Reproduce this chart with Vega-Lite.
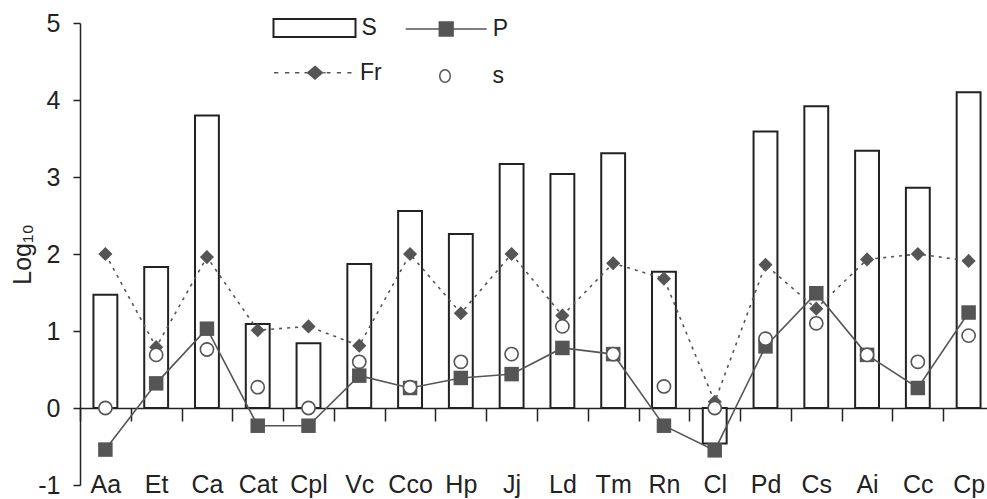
{
  "$schema": "https://vega.github.io/schema/vega-lite/v6.json",
  "width": 914,
  "height": 462,
  "autosize": {"type": "none"},
  "padding": {"left": 80, "top": 23, "right": 0, "bottom": 14},
  "background": "white",
  "config": {
    "font": "Liberation Sans",
    "view": {"stroke": null},
    "axis": {"grid": false, "labelFont": "Liberation Sans", "titleFont": "Liberation Sans", "labelColor": "#222", "titleColor": "#222", "domainColor": "#222", "tickColor": "#222", "domainWidth": 1.5, "tickWidth": 1.5},
    "legend": {"labelFont": "Liberation Sans", "labelFontSize": 23, "labelColor": "#222", "padding": 0, "titlePadding": 0, "rowPadding": 0, "orient": "none"}
  },
  "data": {
    "values": [
      {"cat": "Aa", "S": 1.47, "P": -0.54, "Fr": 2.0, "s": 0.0},
      {"cat": "Et", "S": 1.83, "P": 0.32, "Fr": 0.79, "s": 0.69},
      {"cat": "Ca", "S": 3.8, "P": 1.03, "Fr": 1.96, "s": 0.76},
      {"cat": "Cat", "S": 1.09, "P": -0.23, "Fr": 1.01, "s": 0.27},
      {"cat": "Cpl", "S": 0.84, "P": -0.23, "Fr": 1.06, "s": 0.0},
      {"cat": "Vc", "S": 1.87, "P": 0.42, "Fr": 0.81, "s": 0.6},
      {"cat": "Cco", "S": 2.56, "P": 0.26, "Fr": 2.0, "s": 0.27},
      {"cat": "Hp", "S": 2.26, "P": 0.39, "Fr": 1.23, "s": 0.6},
      {"cat": "Jj", "S": 3.17, "P": 0.44, "Fr": 2.0, "s": 0.7},
      {"cat": "Ld", "S": 3.04, "P": 0.78, "Fr": 1.2, "s": 1.06},
      {"cat": "Tm", "S": 3.31, "P": 0.7, "Fr": 1.88, "s": 0.7},
      {"cat": "Rn", "S": 1.77, "P": -0.23, "Fr": 1.68, "s": 0.28},
      {"cat": "Cl", "S": -0.46, "P": -0.55, "Fr": 0.08, "s": 0.0},
      {"cat": "Pd", "S": 3.59, "P": 0.8, "Fr": 1.86, "s": 0.9},
      {"cat": "Cs", "S": 3.92, "P": 1.49, "Fr": 1.29, "s": 1.1},
      {"cat": "Ai", "S": 3.34, "P": 0.69, "Fr": 1.93, "s": 0.69},
      {"cat": "Cc", "S": 2.86, "P": 0.26, "Fr": 2.0, "s": 0.6},
      {"cat": "Cp", "S": 4.1, "P": 1.24, "Fr": 1.91, "s": 0.94}
    ]
  },
  "encoding": {
    "x": {
      "field": "cat", "type": "nominal", "sort": null,
      "scale": {"paddingInner": 0, "paddingOuter": 0},
      "axis": {"title": null, "orient": "bottom", "offset": -77, "tickBand": "extent", "tickSize": 13, "labelPadding": 51, "labelFontSize": 25, "labelAngle": 0}
    }
  },
  "layer": [
    {
      "mark": {"type": "bar", "width": {"band": 0.47}, "stroke": "#222", "strokeWidth": 2},
      "encoding": {
        "y": {"field": "S", "type": "quantitative", "title": "Log₁₀", "scale": {"domain": [-1, 5], "nice": false},
          "axis": {"values": [-1, 0, 1, 2, 3, 4, 5], "labelExpr": "'' + datum.value", "tickSize": 7, "labelPadding": 13, "labelFontSize": 25, "titleFontSize": 25, "titleFontWeight": "normal", "titlePadding": 2}},
        "fill": {"datum": "S", "type": "nominal", "scale": {"range": ["white"]},
          "legend": {"title": null, "legendX": 192.5, "legendY": -37, "symbolType": "M-1,-0.22H1V0.22H-1Z", "symbolSize": 6724, "symbolStrokeColor": "#222", "symbolStrokeWidth": 2, "symbolFillColor": "white", "labelOffset": 5}}
      }
    },
    {
      "mark": {"type": "line", "stroke": "#555", "strokeWidth": 1.6, "strokeDash": [3, 5]},
      "encoding": {"y": {"field": "Fr", "type": "quantitative", "title": "Log₁₀", "scale": {"domain": [-1, 5], "nice": false}}}
    },
    {
      "mark": {"type": "point", "shape": "diamond", "filled": true, "size": 200, "opacity": 1},
      "encoding": {
        "y": {"field": "Fr", "type": "quantitative", "title": "Log₁₀", "scale": {"domain": [-1, 5], "nice": false}},
        "fill": {"datum": "Fr", "type": "nominal", "scale": {"range": ["#555"]},
          "legend": {"title": null, "legendX": 192, "legendY": 6.7, "symbolType": "M-0.976,0H-0.873M-0.714,0H-0.611M-0.476,0H-0.373M-0.25,0H-0.18M0.2,0H0.25M0.28,0H0.37M0.52,0H0.62M0.77,0H0.87M0,-0.15L0.175,0L0,0.15L-0.175,0Z", "symbolSize": 7056, "symbolStrokeColor": "#555", "symbolStrokeWidth": 1.5, "symbolFillColor": "#555", "labelOffset": 2}}
      }
    },
    {
      "mark": {"type": "line", "stroke": "#555", "strokeWidth": 1.6},
      "encoding": {"y": {"field": "P", "type": "quantitative", "title": "Log₁₀", "scale": {"domain": [-1, 5], "nice": false}}}
    },
    {
      "mark": {"type": "point", "shape": "square", "filled": true, "size": 210, "opacity": 1},
      "encoding": {
        "y": {"field": "P", "type": "quantitative", "title": "Log₁₀", "scale": {"domain": [-1, 5], "nice": false}},
        "fill": {"datum": "P", "type": "nominal", "scale": {"range": ["#555"]},
          "legend": {"title": null, "legendX": 324.7, "legendY": -35.5, "symbolType": "M-1,0H1M-0.17,-0.17H0.17V0.17H-0.17Z", "symbolSize": 6561, "symbolStrokeColor": "#555", "symbolStrokeWidth": 1.5, "symbolFillColor": "#555", "labelOffset": 5}}
      }
    },
    {
      "mark": {"type": "point", "shape": "circle", "filled": true, "size": 175, "stroke": "#555", "strokeWidth": 1.6, "opacity": 1},
      "encoding": {
        "y": {"field": "s", "type": "quantitative", "title": "Log₁₀", "scale": {"domain": [-1, 5], "nice": false}},
        "fill": {"datum": "s", "type": "nominal", "scale": {"range": ["white"]},
          "legend": {"title": null, "legendX": 323.5, "legendY": 11.5, "symbolType": "M0.13,0C0.13,0.086 0.072,0.155 0,0.155C-0.072,0.155 -0.13,0.086 -0.13,0C-0.13,-0.086 -0.072,-0.155 0,-0.155C0.072,-0.155 0.13,-0.086 0.13,0Z", "symbolSize": 6561, "symbolStrokeColor": "#555", "symbolStrokeWidth": 1.5, "symbolFillColor": "white", "labelOffset": 6}}
      }
    }
  ],
  "resolve": {"scale": {"fill": "independent"}, "legend": {"fill": "independent"}}
}
